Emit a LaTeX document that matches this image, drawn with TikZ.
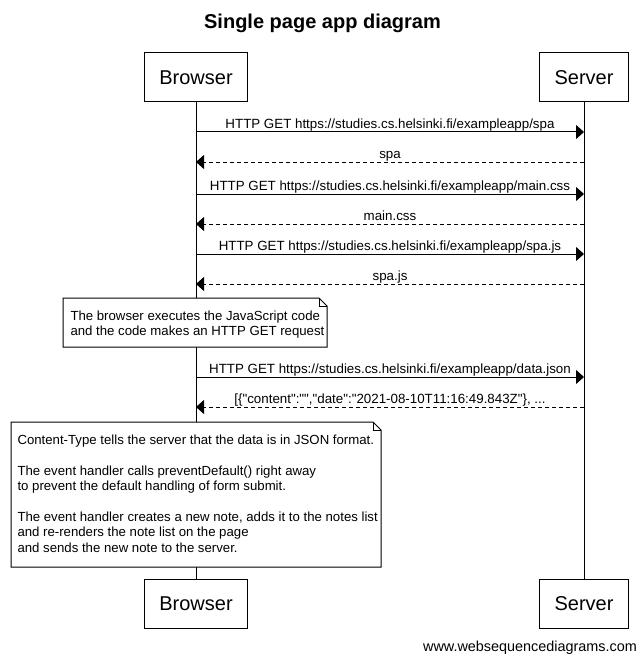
\documentclass[tikz,border=0pt]{standalone}
\usepackage{fontspec}
\setmainfont{Liberation Sans}[Ligatures=TeXOff]
\usetikzlibrary{arrows.meta}

\begin{document}
\begin{tikzpicture}[x=0.75pt, y=-0.75pt, line width=0.75pt,
		actor/.style={draw, fill=white, font=\fontsize{15}{18}\selectfont, inner xsep=11.25pt, minimum height=36.75pt},
		msg/.style={-{Triangle[length=6pt, width=10.5pt]}},
		reply/.style={msg, dash pattern=on 3pt off 2.25pt},
		lbl/.style={above, inner sep=0.5pt, text depth=2.1pt, font=\fontsize{10}{12}\selectfont},
		note/.style={draw, fill=white},
		notetext/.style={anchor=west, align=left, inner sep=0pt, font=\fontsize{9.9}{11.6}\selectfont}]
		\useasboundingbox (0, 0) rectangle (643, 663);
		\node[font=\bfseries\fontsize{15}{18}\selectfont] (title) at (322.5, 23) {Single page app diagram};
		
		\node[actor] (b top) at (196, 77.5) {Browser};
		\node[actor] (s top) at (584, 77.5) {Server};
		\node[actor] (b bot) at (196, 603.5) {Browser};
		\node[actor] (s bot) at (584, 603.5) {Server};
		\draw (b top) -- (b bot);
		\draw (s top) -- (s bot);
		
		\foreach \n/\y in {1/132, 2/162, 3/194, 4/224, 5/254, 6/284, 7/377, 8/407} {
			\coordinate (b\n) at (196, \y);
			\coordinate (s\n) at (584, \y);
		}
		
		\draw[msg] (b1) -- node[lbl] {HTTP GET https://studies.cs.helsinki.fi/exampleapp/spa} (s1);
		\draw[reply] (s2) -- node[lbl] {spa} (b2);
		\draw[msg] (b3) -- node[lbl] {HTTP GET https://studies.cs.helsinki.fi/exampleapp/main.css} (s3);
		\draw[reply] (s4) -- node[lbl] {main.css} (b4);
		\draw[msg] (b5) -- node[lbl] {HTTP GET https://studies.cs.helsinki.fi/exampleapp/spa.js} (s5);
		\draw[reply] (s6) -- node[lbl] {spa.js} (b6);
		\draw[msg] (b7) -- node[lbl] {HTTP GET https://studies.cs.helsinki.fi/exampleapp/data.json} (s7);
		\draw[reply] (s8) -- node[lbl] {[\{"content":"","date":"2021-08-10T11:16:49.843Z"\}, ...} (b8);
		
		% notes over the browser lifeline
		\draw[note] (63, 298) -- (319, 298) -- (327, 306) -- (327, 347) -- (63, 347) -- cycle;
		\draw (319, 298) -- (319, 306) -- (327, 306);
		\node[notetext] (js note) at (70, 324.5)
			{The browser executes the JavaScript code\\
			and the code makes an HTTP GET request};
		
		\draw[note] (11, 422) -- (373, 422) -- (381, 430) -- (381, 567) -- (11, 567) -- cycle;
		\draw (373, 422) -- (373, 430) -- (381, 430);
		\node[notetext] (form note) at (17, 493.5)
			{Content-Type tells the server that the data is in JSON format.\\[11.6pt]
			The event handler calls preventDefault() right away\\
			to prevent the default handling of form submit.\\[11.6pt]
			The event handler creates a new note, adds it to the notes list\\
			and re-renders the note list on the page\\
			and sends the new note to the server.};
		
		\node[font=\fontsize{10.8}{13}\selectfont] (credit) at (530, 648) {www.websequencediagrams.com};
\end{tikzpicture}
\end{document}
